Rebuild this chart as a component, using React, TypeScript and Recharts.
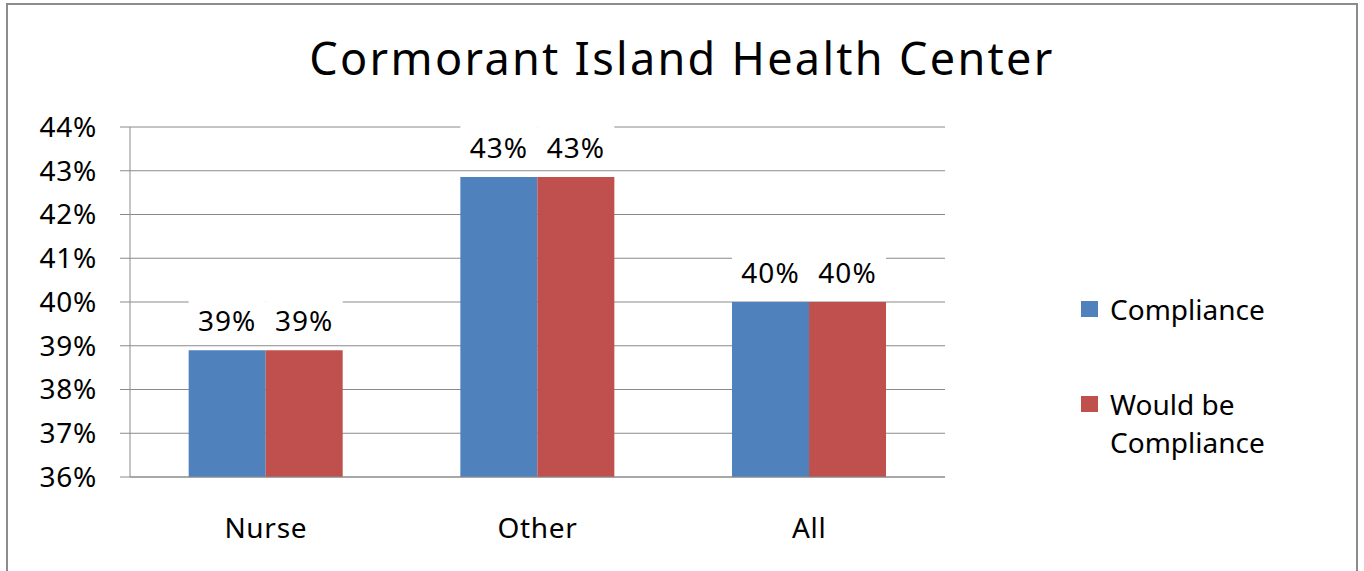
import React from 'react';
import { BarChart, Bar, XAxis, YAxis, CartesianGrid, Legend, LabelList } from 'recharts';

const categories = ['Nurse', 'Other', 'All'];
const compliance = [38.9, 42.86, 40.0];
const wouldBeCompliance = [38.9, 42.86, 40.0];
const yTicks = [36, 37, 38, 39, 40, 41, 42, 43, 44];
const boundaryTicks = [0, 1, 2, 3];
const seriesNames = ['Compliance', 'Would be Compliance'];
const seriesColors = ['#4F81BD', '#C0504D'];
const title = 'Cormorant Island Health Center';

const data = categories.map((c, i) => ({ name: c, compliance: compliance[i], would: wouldBeCompliance[i] }));

const FONT = '"Noto Sans", "Open Sans", sans-serif';
const GRID = '#8a8a8a';

const renderLabel = (props: any) => {
  const { x, y, width, value } = props;
  const cx = x + width / 2;
  return (
    <g>
      <rect x={x} y={y - 52} width={width} height={42} fill="#fff" />
      <text x={cx} y={y - 30} textAnchor="middle" dominantBaseline="central" fontSize={28} fontFamily={FONT} fill="#000" letterSpacing={1}>
        {`${Math.round(value)}%`}
      </text>
    </g>
  );
};

const renderLegend = (props: any) => {
  const payload = props.payload || [];
  return (
    <div style={{ fontFamily: FONT, fontSize: 28, color: '#000' }}>
      {payload.map((p: any, i: number) => (
        <div key={i} style={{ position: 'relative', height: 38, lineHeight: '38px', marginBottom: i === 0 ? 57 : 0 }}>
          <div style={{ position: 'absolute', left: 0, top: 11, width: 17, height: 16, background: p.color }} />
          <div style={{ position: 'absolute', left: 29, top: 0, width: 175, lineHeight: '38px', textAlign: 'left' }}>{p.value}</div>
        </div>
      ))}
    </div>
  );
};

export default function App() {
  return (
    <div style={{ position: 'absolute', left: 0, top: 0, width: 1364, height: 571, overflow: 'hidden', background: '#fff', fontFamily: FONT }}>
      <div style={{ position: 'absolute', left: 6, top: 3, width: 1352, height: 640, border: '2px solid #8c8c8c', boxSizing: 'border-box' }} />
      <div style={{ position: 'absolute', left: 0, top: 27, width: 1364, textAlign: 'center', fontSize: 45, lineHeight: 'normal', letterSpacing: 2.3, color: '#000', fontFamily: FONT }}>
        {title}
      </div>
      <div style={{ position: 'absolute', left: 0, top: 0 }}>
        <BarChart width={1364} height={571} data={data} margin={{ top: 127, right: 419, bottom: 0, left: 0 }} barCategoryGap="21.6%" barGap={0}>
          <CartesianGrid xAxisId="m" vertical={false} stroke={GRID} strokeWidth={1} />
          <XAxis xAxisId="b" type="number" domain={[0, 3]} ticks={boundaryTicks} interval={0} height={0} axisLine={false} tickSize={10} tickLine={{ stroke: GRID }} tick={() => <g />} />
          <XAxis xAxisId="m" dataKey="name" height={94} tickLine={false} tickSize={10} tickMargin={31} axisLine={{ stroke: GRID }} tick={{ fontSize: 28, fill: '#000', fontFamily: FONT, letterSpacing: 0.7 }} />
          <YAxis domain={[36, 44]} ticks={yTicks} interval={0} width={130} tickSize={10} tickMargin={23} tickFormatter={(v: number) => `${v}%`} axisLine={{ stroke: GRID }} tickLine={{ stroke: GRID }} tick={{ fontSize: 28, fill: '#000', fontFamily: FONT, letterSpacing: 0.7 }} />
          <Legend layout="horizontal" align="center" verticalAlign="middle" content={renderLegend} wrapperStyle={{ position: 'absolute', left: 1081, top: 290, width: 260, height: 160 }} />
          <Bar xAxisId="m" dataKey="compliance" name={seriesNames[0]} fill={seriesColors[0]} isAnimationActive={false}>
            <LabelList dataKey="compliance" content={renderLabel} />
          </Bar>
          <Bar xAxisId="m" dataKey="would" name={seriesNames[1]} fill={seriesColors[1]} isAnimationActive={false}>
            <LabelList dataKey="would" content={renderLabel} />
          </Bar>
        </BarChart>
      </div>
    </div>
  );
}
